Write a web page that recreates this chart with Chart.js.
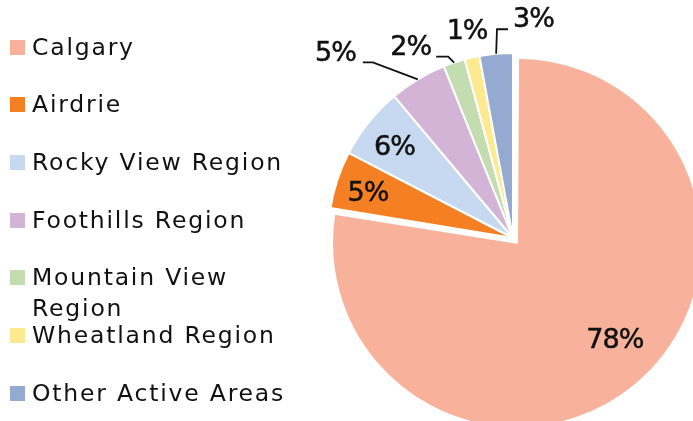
<!DOCTYPE html>
<html>
<head>
<meta charset="utf-8">
<script src="https://cdn.jsdelivr.net/npm/chart.js@4/dist/chart.umd.min.js"></script>
<style>
  html, body { margin: 0; padding: 0; background: #fff; overflow: hidden; }
  #wrap { position: relative; width: 693px; height: 421px; }
  #chart { position: absolute; left: 0; top: 0; }
  #legend { position: absolute; left: 0; top: 0; width: 330px; height: 421px; pointer-events: none;
            font-family: "DejaVu Sans", sans-serif; font-size: 23.5px; letter-spacing: 1.8px; color: #111; }
  .item { position: absolute; left: 0; height: 31px; width: 330px; }
  .sw { position: absolute; left: 10px; top: 8px; width: 15px; height: 15px; }
  .tx { position: absolute; left: 32px; top: 0; width: 290px; line-height: 31px; white-space: normal; }
</style>
</head>
<body>
<div id="wrap">
  <canvas id="chart" width="693" height="421"></canvas>
  <div id="legend"></div>
</div>
<script>
// ---- data ----
const categories = ['Calgary', 'Airdrie', 'Rocky View Region', 'Foothills Region',
                    'Mountain View Region', 'Wheatland Region', 'Other Active Areas'];
const shares = [77.6, 5.0, 6.3, 5.0, 1.9, 1.3, 2.9];
const sliceColors = ['#F8B29C', '#F58023', '#C6D9F0', '#D3B4D7', '#C4DDB0', '#FDE98F', '#94AAD0'];
const sliceOffsets = [25, 0, 0, 0, 0, 0, 0];

// label placement (style/position config, not data)
const labelPlacement = [
  { inside: true, r: 0.75, dx: 8, dy: -8 },
  { inside: true, r: 0.82, dx: -1, dy: 4 },
  { inside: true, r: 0.80, dx: -3, dy: 3 },
  { inside: false, ex: -45, ey: -17, run: -10, gap: 7, ty: -8 },
  { inside: false, ex: -6, ey: -6, run: -12, gap: 5, ty: -8.5 },
  { inside: false, free: true, dx: -5, dy: -25.5 },
  { inside: false, ex: 0.8, ey: -24.5, run: 11, gap: 5, ty: -9 }
];

// keep an exploded slice at the same radius as the rest
const keepRadius = {
  id: 'keepRadius',
  afterDatasetUpdate(chart, args) {
    args.meta.data.forEach(a => {
      const o = ((a.options && a.options.offset) || 0) / 4;
      if (o && a.circumference > Math.PI) a.outerRadius -= o;
    });
  }
};

const pctLabels = {
  id: 'pctLabels',
  afterDatasetsDraw(chart, args, opts) {
    const meta = chart.getDatasetMeta(0);
    const vals = chart.data.datasets[0].data;
    const ctx = chart.ctx;
    ctx.save();
    ctx.font = opts.font;
    if ('letterSpacing' in ctx) ctx.letterSpacing = opts.letterSpacing;
    ctx.fillStyle = opts.color;
    ctx.strokeStyle = opts.color;
    ctx.textBaseline = 'middle';
    const put = (t, x, y) => {
      ctx.fillText(t, x, y);
      ctx.lineWidth = opts.textStroke;
      ctx.strokeText(t, x, y);
    };
    meta.data.forEach((arc, i) => {
      const p = arc.getProps(['x', 'y', 'startAngle', 'endAngle', 'outerRadius', 'circumference']);
      const mid = (p.startAngle + p.endAngle) / 2;
      const off = ((arc.options && arc.options.offset) || 0) / 4;
      const cx = p.x + Math.cos(mid) * off;
      const cy = p.y + Math.sin(mid) * off;
      const R = p.outerRadius + (p.circumference > Math.PI ? off : 0);
      const spec = opts.placement[i];
      const text = Math.round(vals[i]) + '%';
      if (spec.inside) {
        ctx.textAlign = 'center';
        put(text, cx + Math.cos(mid) * R * spec.r + spec.dx, cy + Math.sin(mid) * R * spec.r + spec.dy);
        return;
      }
      const ex = cx + Math.cos(mid) * R;
      const ey = cy + Math.sin(mid) * R;
      if (spec.free) {
        ctx.textAlign = 'center';
        put(text, ex + spec.dx, ey + spec.dy);
        return;
      }
      const bx = ex + spec.ex, by = ey + spec.ey;
      const hx = bx + spec.run;
      ctx.lineWidth = opts.lineWidth;
      ctx.beginPath();
      ctx.moveTo(ex, ey);
      ctx.lineTo(bx, by);
      ctx.lineTo(hx, by);
      ctx.stroke();
      if (spec.run < 0) {
        ctx.textAlign = 'right';
        put(text, hx - spec.gap, by + spec.ty);
      } else {
        ctx.textAlign = 'left';
        put(text, hx + spec.gap, by + spec.ty);
      }
    });
    ctx.restore();
  }
};

const chart = new Chart(document.getElementById('chart'), {
  type: 'pie',
  data: {
    labels: categories,
    datasets: [{
      data: shares,
      backgroundColor: sliceColors,
      borderColor: '#ffffff',
      borderWidth: 2,
      offset: sliceOffsets,
      radius: 185,
      clip: false
    }]
  },
  options: {
    responsive: false,
    animation: false,
    events: [],
    layout: { padding: { left: 333, top: 55, right: 0, bottom: 0 } },
    plugins: {
      legend: { display: false },
      tooltip: { enabled: false },
      pctLabels: {
        font: '27px "DejaVu Sans", sans-serif',
        letterSpacing: '-1px',
        color: '#111111',
        lineWidth: 1.8,
        textStroke: 0.5,
        placement: labelPlacement
      }
    }
  },
  plugins: [keepRadius, pctLabels]
});

// HTML legend built from the chart's own labels and colours
(function buildLegend() {
  const legend = document.getElementById('legend');
  const labels = chart.data.labels;
  const cols = chart.data.datasets[0].backgroundColor;
  const firstCenter = 47, step = 57.67;
  labels.forEach((lab, i) => {
    const item = document.createElement('div');
    item.className = 'item';
    item.style.top = (firstCenter + step * i - 15.5) + 'px';
    const sw = document.createElement('div');
    sw.className = 'sw';
    sw.style.background = cols[i];
    const tx = document.createElement('div');
    tx.className = 'tx';
    tx.textContent = lab;
    item.appendChild(sw);
    item.appendChild(tx);
    legend.appendChild(item);
  });
})();
</script>
</body>
</html>
